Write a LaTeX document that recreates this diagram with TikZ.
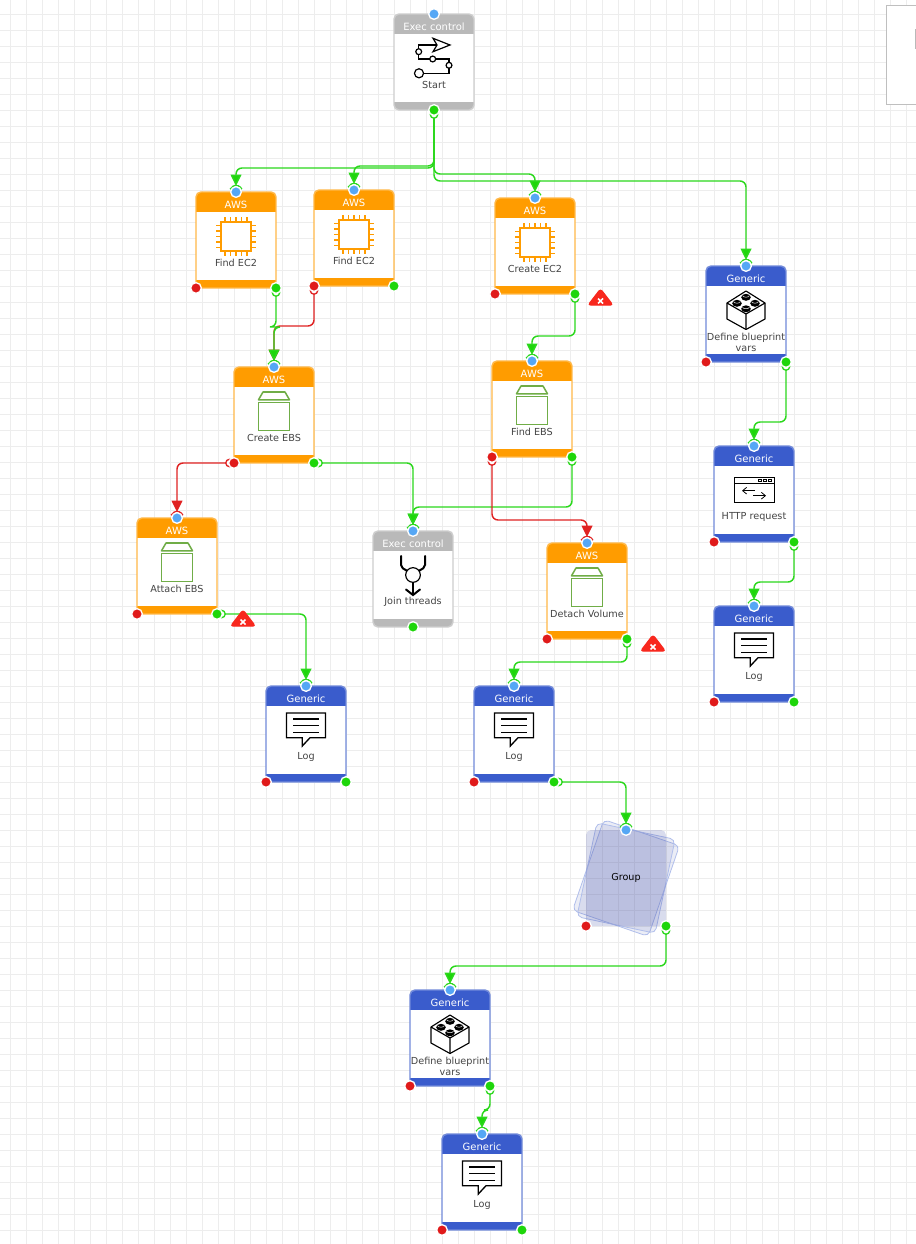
\documentclass[tikz,border=0pt]{standalone}
\usepackage{fontspec}
\setmainfont{DejaVu Sans}
\usetikzlibrary{arrows.meta,backgrounds,shapes.geometric}
\definecolor{gridgray}{HTML}{EDEDED}
\definecolor{awsorange}{HTML}{FF9C00}
\definecolor{execgray}{HTML}{B9B9B9}
\definecolor{genericblue}{HTML}{3A5CCC}
\definecolor{groupblue}{HTML}{4450A8}
\definecolor{portblue}{HTML}{55A7F5}
\definecolor{portred}{HTML}{E01A1A}
\definecolor{portgreen}{HTML}{1ED60A}
\definecolor{wiregreen}{HTML}{2BD81C}
\definecolor{wirered}{HTML}{E02222}
\definecolor{boxgreen}{HTML}{70AD47}
\definecolor{failred}{HTML}{F8281E}
\definecolor{textgray}{HTML}{444444}
\pgfdeclarelayer{ports}
\pgfsetlayers{main,ports}

% card: name, x, top, colour, head, icon, label
\newcommand{\card}[8][71]{
\node[card=#5] (#2) at (#3,#4+48) {};
\node[headtext] (#2-head) at (#3,#4+12.5) {#6};
\pic at (#3,#4) {#7};
\node[labeltext] (#2-label) at (#3,#4+#1) {#8};
\begin{pgfonlayer}{ports}
\node[port=portblue] (#2-in) at (#2.north) {};
\node[port=portred] (#2-err) at (#2.south west) {};
\node[port=portgreen] (#2-ok) at (#2.south east) {};
\end{pgfonlayer}
}
% exec card has one exit in the middle
\newcommand{\execcard}[5]{
\node[card=execgray] (#1) at (#2,#3+48) {};
\node[headtext] (#1-head) at (#2,#3+12.5) {Exec control};
\pic at (#2,#3) {#4};
\node[labeltext] (#1-label) at (#2,#3+71) {#5};
\begin{pgfonlayer}{ports}
\node[port=portblue] (#1-in) at (#1.north) {};
\node[port=portgreen] (#1-ok) at (#1.south) {};
\end{pgfonlayer}
}
% ring on the exit of a port, arc over the entry of a port
\newcommand{\tail}[4]{\draw[#1,line width=1pt,fill=white] ([shift={(#3,#4)}]#2.center) circle (2.8pt);}
\newcommand{\nose}[2]{\draw[#1,line width=1pt] ([shift={(25:4.9pt)}]#2.center) arc[start angle=25,end angle=155,radius=4.9pt];}

\begin{document}
\begin{tikzpicture}[
x=0.75pt,y=-0.75pt,
card/.style={draw=#1!72!white,fill=white,line width=1.1pt,rounded corners=3.8pt,minimum width=60pt,minimum height=72pt,inner sep=0pt,outer sep=0pt,
  path picture={
    \fill[#1,sharp corners] (path picture bounding box.north west) rectangle ([yshift=-15pt]path picture bounding box.north east);
    \fill[#1,sharp corners] (path picture bounding box.south west) rectangle ([yshift=6.2pt]path picture bounding box.south east);
  }},
headtext/.style={text=white,font=\fontsize{7.5}{9}\selectfont,inner sep=0pt},
labeltext/.style={text=textgray,font=\fontsize{7.25}{8.3}\selectfont,inner sep=0pt,align=center},
port/.style={circle,fill=#1,draw=white,line width=1pt,minimum size=8pt,inner sep=0pt},
gridline/.style={draw=gridgray,line width=0.6pt},
okwire/.style={draw=wiregreen,line width=1.1pt,rounded corners=4.5pt,-{Triangle[length=8.5pt,width=8pt,fill=portgreen]}},
badwire/.style={draw=wirered,line width=1.1pt,rounded corners=4.5pt,-{Triangle[length=8.5pt,width=8pt]}},
sheet/.style={draw=genericblue!40!white,fill=groupblue,fill opacity=0.1,line width=0.6pt,rounded corners=3.8pt,minimum width=60pt,minimum height=72pt,inner sep=0pt,outer sep=0pt},
fail/.style={isosceles triangle,isosceles triangle apex angle=75,shape border rotate=90,fill=failred,draw=failred,line width=1pt,rounded corners=2pt,minimum height=12pt,inner sep=0pt},
chip/.pic={
  \draw[awsorange,line width=0.95pt] (-15,30) rectangle (15,59);
  \foreach \k in {-11,-5.5,0,5.5,11} {
    \draw[awsorange,line width=0.95pt] (\k,30) -- (\k,25);
    \draw[awsorange,line width=0.95pt] (\k,59) -- (\k,64);
    \draw[awsorange,line width=0.95pt] (-15,44.5+\k) -- (-20,44.5+\k);
    \draw[awsorange,line width=0.95pt] (15,44.5+\k) -- (20,44.5+\k);
  }
},
volume/.pic={
  \draw[boxgreen,line width=1.15pt] (-15.5,35.3) rectangle (15.5,63.5);
  \draw[boxgreen,line width=1.15pt,line join=round] (-15.5,32.8) -- (-11,25) -- (11,25) -- (15.5,32.8) -- cycle;
},
brick/.pic={
  \draw[black,line width=0.85pt,line join=round,fill=white] (0,25) -- (19,37) -- (19,53) -- (0,63.5) -- (-19,53) -- (-19,37) -- cycle;
  \draw[black,line width=0.85pt,line join=round] (-19,37) -- (0,48) -- (19,37) (0,48) -- (0,63.5);
  \foreach \px/\py in {0/30.5,-9/36.5,9/36.5,0/42} {
    \fill[black] (\px,\py+0.8) ellipse (3.6pt and 2.6pt);
    \draw[white,line width=0.35pt] (\px-3.5,\py-1) arc[start angle=180,end angle=360,x radius=2.6pt,y radius=1.3pt];
  }
},
bubble/.pic={
  \draw[black,line width=1pt,line join=miter] (-19.5,27) -- (19.5,27) -- (19.5,51.7) -- (4,51.7) -- (-3.7,60) -- (-3.7,51.7) -- (-19.5,51.7) -- cycle;
  \foreach \py in {33,39.7,46.7} \draw[black,line width=0.85pt] (-13,\py) -- (13,\py);
},
webwindow/.pic={
  \draw[black,line width=0.65pt] (-20,31.3) rectangle (20,56.7) (-20,37.3) -- (20,37.3);
  \foreach \px in {6,10.5,15.5} \draw[black,line width=0.45pt] (\px-1.3,33.2) rectangle (\px+1.3,35.4);
  \draw[black,line width=0.6pt,-{Straight Barb[length=3pt,width=5pt]}] (1,44.7) -- (-12,44.7);
  \draw[black,line width=0.6pt,-{Straight Barb[length=3pt,width=5pt]}] (-0.7,49.7) -- (12,49.7);
},
flow/.pic={
  \draw[black,line width=0.9pt,line join=miter] (-1,24.3) -- (16,31) -- (-1,37.7) -- (3,31) -- cycle;
  \draw[black,line width=0.9pt] (3,31) -- (-15.3,31) -- (-15.3,34.7);
  \draw[black,line width=0.9pt] (-15.3,37.7) circle (2.2pt);
  \draw[black,line width=0.9pt] (-15.3,40.7) -- (-15.3,45) -- (-4.3,45);
  \draw[black,line width=0.9pt] (-1.3,45) circle (2.2pt);
  \draw[black,line width=0.9pt] (1.7,45) -- (15,45) -- (15,48.3);
  \draw[black,line width=0.9pt] (15,51.3) circle (2.2pt);
  \draw[black,line width=0.9pt] (15,54.3) -- (15,59.3) -- (-10.5,59.3);
  \draw[black,line width=0.9pt] (-15,59.3) circle (3.4pt);
},
joiner/.pic={
  \draw[black,line width=1.5pt,line cap=round] (-12,25) -- (-12,34) .. controls (-12,37) and (-9,38) .. (-6.5,39.5);
  \draw[black,line width=1.5pt,line cap=round] (12,25) -- (12,34) .. controls (12,37) and (9,38) .. (6.5,39.5);
  \draw[black,line width=0.9pt] (0,44) circle (5.5pt);
  \draw[black,line width=1.5pt] (0,51.3) -- (0,64);
  \draw[black,line width=1.5pt,line cap=round] (-7,58.5) -- (0,64) -- (7,58.5);
}
]
\clip (0,0) rectangle (916,1244);
\fill[white] (0,0) rectangle (916,1244);

% Draw grid
\foreach \k in {0,...,56} \draw[gridline] (10.5+16*\k,0) -- (10.5+16*\k,1244);
\foreach \k in {0,...,76} \draw[gridline] (0,14.5+16*\k) -- (916,14.5+16*\k);

% side panel
\draw[draw=gray!50,fill=white,line width=0.9pt] (886.5,5.5) rectangle (925,104.5);
\fill[gray!55] (915,29) rectangle (916,49);

% Draw cards
\execcard{start}{434}{14}{flow}{Start}
\card{findA}{236}{192}{awsorange}{AWS}{chip}{Find EC2}
\card{findB}{354}{190}{awsorange}{AWS}{chip}{Find EC2}
\card{createec}{535}{198}{awsorange}{AWS}{chip}{Create EC2}
\card[76.5]{defineA}{746}{266}{genericblue}{Generic}{brick}{Define blueprint\\vars}
\card{createebs}{274}{367}{awsorange}{AWS}{volume}{Create EBS}
\card{findebs}{532}{361}{awsorange}{AWS}{volume}{Find EBS}
\card{http}{754}{446}{genericblue}{Generic}{webwindow}{HTTP request}
\card{attach}{177}{518}{awsorange}{AWS}{volume}{Attach EBS}
\execcard{joinT}{413}{531}{joiner}{Join threads}
\card{detach}{587}{543}{awsorange}{AWS}{volume}{Detach Volume}
\card{logR}{754}{606}{genericblue}{Generic}{bubble}{Log}
\card{logA}{306}{686}{genericblue}{Generic}{bubble}{Log}
\card{logB}{514}{686}{genericblue}{Generic}{bubble}{Log}
\card[76.5]{defineB}{450}{990}{genericblue}{Generic}{brick}{Define blueprint\\vars}
\card{logC}{482}{1134}{genericblue}{Generic}{bubble}{Log}

% group is three sheets
\node[sheet,rotate=-19] (groupC) at (626,878) {};
\node[sheet,rotate=-12] (groupB) at (626,878) {};
\node[sheet,draw=none,fill opacity=0.2] (group) at (626,878) {};
\node[text=black,font=\fontsize{7.2}{9}\selectfont,inner sep=0pt] (group-label) at (626,877.5) {Group};
\begin{pgfonlayer}{ports}
\node[port=portblue] (group-in) at (group.north) {};
\node[port=portred] (group-err) at (group.south west) {};
\node[port=portgreen] (group-ok) at (group.south east) {};
\end{pgfonlayer}

% Draw connectors
\draw[okwire] (start-ok) -- (434,168) -| (findA-in);
\draw[okwire] (start-ok) -- (434,166) -| (findB-in);
\draw[okwire] (start-ok) -- (434,174) -| (createec-in);
\draw[okwire] (start-ok) -- (434,181) -| (defineA-in);
\draw[badwire] (findB-err) -- (314,326) -| (createebs-in);
\draw[okwire] (findA-ok) -- (276,327) -| (createebs-in);
\draw[okwire] (createec-ok) -- (575,336) -| (findebs-in);
\draw[badwire] (createebs-err) -| (attach-in);
\draw[okwire] (createebs-ok) -| (joinT-in);
\draw[okwire] (findebs-ok) -- (572,507) -| (joinT-in);
\draw[badwire] (findebs-err) -- (492,520) -| (detach-in);
\draw[okwire] (defineA-ok) -- (786,422) -| (http-in);
\draw[okwire] (http-ok) -- (794,582) -| (logR-in);
\draw[okwire] (attach-ok) -| (logA-in);
\draw[okwire] (detach-ok) -- (627,662) -| (logB-in);
\draw[okwire] (logB-ok) -| (group-in);
\draw[okwire] (group-ok) -- (666,966) -| (defineB-in);
\draw[okwire] (defineB-ok) -- (490,1110) -| (logC-in);

\tail{wiregreen}{start-ok}{0}{4.5}
\tail{wiregreen}{findA-ok}{0}{4.5}
\tail{wirered}{findB-err}{0}{4.5}
\tail{wiregreen}{createec-ok}{0}{4.5}
\tail{wirered}{createebs-err}{-4.5}{0}
\tail{wiregreen}{createebs-ok}{4.5}{0}
\tail{wiregreen}{findebs-ok}{0}{4.5}
\tail{wirered}{findebs-err}{0}{4.5}
\tail{wiregreen}{defineA-ok}{0}{4.5}
\tail{wiregreen}{http-ok}{0}{4.5}
\tail{wiregreen}{attach-ok}{4.5}{0}
\tail{wiregreen}{detach-ok}{0}{4.5}
\tail{wiregreen}{logB-ok}{4.5}{0}
\tail{wiregreen}{group-ok}{0}{4.5}
\tail{wiregreen}{defineB-ok}{0}{4.5}

\nose{wiregreen}{findA-in}
\nose{wiregreen}{findB-in}
\nose{wiregreen}{createec-in}
\nose{wiregreen}{defineA-in}
\nose{wiregreen}{createebs-in}
\nose{wiregreen}{findebs-in}
\nose{wirered}{attach-in}
\nose{wiregreen}{joinT-in}
\nose{wirered}{detach-in}
\nose{wiregreen}{http-in}
\nose{wiregreen}{logR-in}
\nose{wiregreen}{logA-in}
\nose{wiregreen}{logB-in}
\nose{wiregreen}{group-in}
\nose{wiregreen}{defineB-in}
\nose{wiregreen}{logC-in}

% failure marks
\foreach \name/\bx/\by in {failA/600.5/301,failB/243/622,failC/653/647} {
  \node[fail] (\name) at (\bx,\by-2) {};
  \draw[white,line width=1.1pt] (\bx-2.5,\by-2.5) -- (\bx+2.5,\by+2.5) (\bx-2.5,\by+2.5) -- (\bx+2.5,\by-2.5);
}
\end{tikzpicture}
\end{document}
